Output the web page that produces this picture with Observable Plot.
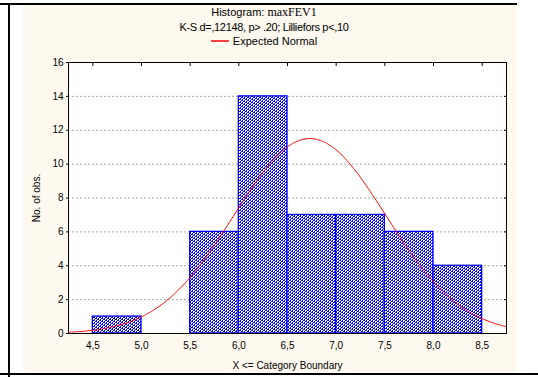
<!DOCTYPE html>
<html><head><meta charset="utf-8">
<script src="https://cdn.jsdelivr.net/npm/d3@7"></script>
<script src="https://cdn.jsdelivr.net/npm/@observablehq/plot@0.6"></script>
<style>
body{margin:0;background:#fff;font-family:"Liberation Sans",Arial,sans-serif;}
#wrap{position:relative;width:538px;height:377px;overflow:hidden;background:#fff;}
.cream{position:absolute;left:23px;top:5px;width:494px;height:367px;background:#fdf9ef;}
.lt{position:absolute;left:0;top:3px;width:517px;height:2px;background:#000;}
.ll{position:absolute;left:8px;top:3px;width:2px;height:374px;background:#000;}
.lb{position:absolute;left:0;top:373px;width:538px;height:2px;background:#000;}
#titles{position:absolute;left:23px;width:482px;top:5px;text-align:center;color:#000;line-height:14.5px;font-size:11px;}
#titles .serif{font-family:"Liberation Serif","Times New Roman",serif;font-size:12px;}
#titles .l2{letter-spacing:-0.34px;}
#titles .sw{display:inline-block;width:18px;height:2px;background:#ff4040;vertical-align:middle;margin-right:4px;position:relative;top:-1px;}
#chart{position:absolute;left:0;top:50px;}
</style>
</head><body>
<div id="wrap">
  <div class="cream"></div>
  <div class="lt"></div><div class="ll"></div><div class="lb"></div>
  <div id="titles">
    <div>Histogram: <span class="serif">maxFEV1</span></div>
    <div class="l2">K-S d=,12148, p&gt; .20; Lilliefors p&lt;,10</div>
    <div><span class="sw"></span>Expected Normal</div>
  </div>
  <div id="chart"></div>
</div>
<script>
// Category boundaries (X <= boundary) and observed counts
const boundaries = [4.5, 5.0, 5.5, 6.0, 6.5, 7.0, 7.5, 8.0, 8.5];
const counts = [1, 0, 6, 14, 7, 7, 6, 4];
const xTicks = [4.5, 5.0, 5.5, 6.0, 6.5, 7.0, 7.5, 8.0, 8.5];
const yTicks = [0, 2, 4, 6, 8, 10, 12, 14, 16];
// Expected normal parameters
const normalMean = 6.73;
const normalSD = 0.78;
const xDomain = [4.25, 8.75];

const nObs = d3.sum(counts);
const binWidth = boundaries[1] - boundaries[0];
const bars = counts.map((c, i) => ({x1: boundaries[i], x2: boundaries[i + 1], count: c})).filter(d => d.count > 0);
const curve = d3.range(xDomain[0], xDomain[1] + 1e-9, 0.01).map(x => ({
  x, y: nObs * binWidth * Math.exp(-0.5 * ((x - normalMean) / normalSD) ** 2) / (normalSD * Math.sqrt(2 * Math.PI))
}));
const fmt = d => d.toFixed(1).replace(".", ",");

const svg = Plot.plot({
  width: 538,
  height: 327,
  marginLeft: 68,
  marginRight: 32,
  marginTop: 12,
  marginBottom: 44,
  style: {background: "transparent", color: "#000", fontFamily: "'Liberation Sans', Arial, sans-serif", fontSize: "10px", overflow: "visible"},
  x: {domain: xDomain},
  y: {domain: [0, 16]},
  marks: [
    Plot.frame({fill: "#fff"}),
    Plot.gridY(yTicks.filter(v => v > 0 && v < 16), {stroke: "#a8a8a8", strokeOpacity: 1, strokeDasharray: "2,2"}),
    Plot.rectY(bars, {x1: "x1", x2: "x2", y: "count", fill: "url(#hatch)", stroke: "#0000ff", strokeWidth: 1.3}),
    Plot.line(curve, {x: "x", y: "y", stroke: "#ff0000", strokeWidth: 1}),
    Plot.frame({stroke: "#000"}),
    Plot.axisX({anchor: "bottom", ticks: xTicks, tickSize: 0, tickPadding: 8, tickFormat: fmt, fontSize: 10,
      label: "X <= Category Boundary", labelAnchor: "center", labelArrow: "none", labelOffset: 35}),
    Plot.axisX({anchor: "top", ticks: xTicks, tickSize: 3, dy: 3, tickFormat: () => "", label: null}),
    Plot.axisY({anchor: "left", ticks: yTicks, tickSize: 2, tickPadding: 3, tickFormat: d => String(d), fontSize: 10,
      label: "No. of obs.", labelAnchor: "center", labelArrow: "none", labelOffset: 36}),
    Plot.axisY({anchor: "right", ticks: yTicks, tickSize: 3, dx: -3, tickFormat: () => "", label: null})
  ]
});

// fine pixel hatch: "/" diagonals with period 3, partly dotted
const defs = d3.select(svg).insert("defs", ":first-child");
const pat = defs.append("pattern").attr("id", "hatch").attr("patternUnits", "userSpaceOnUse")
  .attr("width", 6).attr("height", 6).attr("shape-rendering", "crispEdges");
pat.append("rect").attr("width", 6).attr("height", 6).attr("fill", "#fff");
for (let px = 0; px < 6; px++) for (let py = 0; py < 6; py++) {
  const k = (px + py) % 3;
  if (k === 0 || (k === 1 && px % 2 === 0)) pat.append("rect").attr("x", px).attr("y", py).attr("width", 1).attr("height", 1).attr("fill", "#0000ff");
}

document.getElementById("chart").appendChild(svg);
</script>
</body></html>
